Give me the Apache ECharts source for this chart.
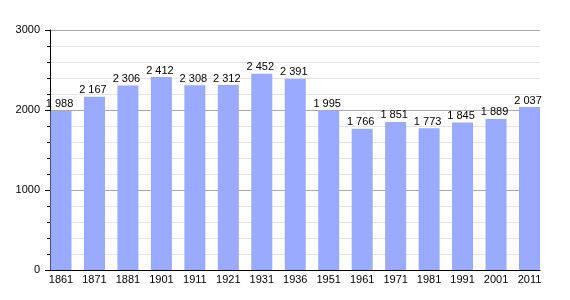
<!DOCTYPE html>
<html><head><meta charset="utf-8">
<script src="https://cdn.jsdelivr.net/npm/echarts@6/dist/echarts.min.js"></script>
<style>html,body{margin:0;padding:0;background:#fff}#c{width:570px;height:300px}</style>
</head><body><div id="c"></div>
<script>
var years = ['1861','1871','1881','1901','1911','1921','1931','1936','1951','1961','1971','1981','1991','2001','2011'];
var population = [1988,2167,2306,2412,2308,2312,2452,2391,1995,1766,1851,1773,1845,1889,2037];
var yTicks = [0,1000,2000,3000];

var font = 'Liberation Sans, Arial, sans-serif';
function fmt(v){ var s=String(v); return s.length>3 ? s.slice(0,s.length-3)+' '+s.slice(-3) : s; }

var chart = echarts.init(document.getElementById('c'));
chart.setOption({
  animation:false,
  grid:[
    {left:50,right:30,top:30,bottom:30},
    {left:61,right:40.5,top:30,bottom:30}
  ],
  xAxis:[
    {gridIndex:0,type:'category',data:years,boundaryGap:true,
     axisLine:{show:true,lineStyle:{color:'#000',width:1}},axisTick:{show:false},axisLabel:{show:false},splitLine:{show:false}},
    {gridIndex:1,type:'category',data:years,boundaryGap:false,
     axisLine:{show:false},axisTick:{show:false},
     axisLabel:{show:true,color:'#000',fontSize:11,fontFamily:font,margin:4,interval:0}}
  ],
  yAxis:[
    {gridIndex:0,type:'value',min:yTicks[0],max:yTicks[yTicks.length-1],interval:1000,
     axisLine:{show:true,lineStyle:{color:'#000',width:1}},
     axisTick:{show:true,length:5,lineStyle:{color:'#000'}},
     minorTick:{show:true,splitNumber:5,length:3,lineStyle:{color:'#000'}},
     axisLabel:{color:'#000',fontSize:11,fontFamily:font,margin:10,formatter:function(v){return String(v);}},
     splitLine:{show:true,lineStyle:{color:'#aaaaaa',width:1}},
     minorSplitLine:{show:true,lineStyle:{color:'#e4e4e4',width:1}}},
    {gridIndex:1,type:'value',min:yTicks[0],max:yTicks[yTicks.length-1],show:false,splitLine:{show:false}}
  ],
  series:[{
    type:'bar',xAxisIndex:1,yAxisIndex:1,data:population,barWidth:21,z:5,
    itemStyle:{color:'#99aaff'},
    label:{show:true,position:'top',distance:1,offset:[-1.5,0],color:'#000',fontSize:11,fontFamily:font,
      formatter:function(p){return fmt(p.value);}}
  }]
});
</script></body></html>
